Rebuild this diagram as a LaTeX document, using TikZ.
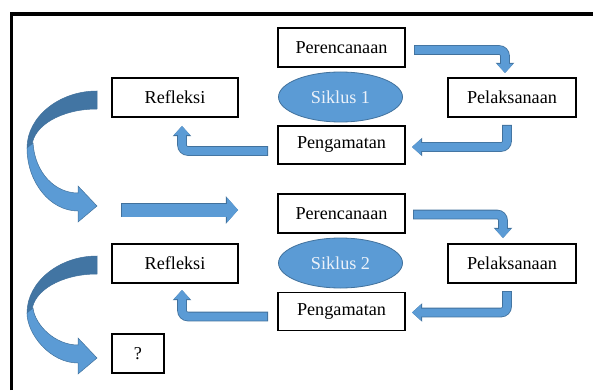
\documentclass[tikz,border=0pt]{standalone}
\usepackage{fontspec}
\setmainfont{Liberation Serif}
\usetikzlibrary{arrows.meta, shapes.geometric}

\definecolor{arrowblue}{RGB}{91,155,213}
\definecolor{arrowedge}{RGB}{65,113,156}
\definecolor{bandback}{RGB}{66,117,163}
\definecolor{cyctext}{RGB}{236,242,250}

\newcommand{\boxfont}{\fontsize{18.2}{22}\selectfont}

\tikzset{
    pics/turnback/.style={code={
        \filldraw[fill=bandback, draw=arrowedge, line width=0.5pt]
            (0,0) .. controls (-38,0) and (-70,26) .. (-70,57) -- (-65,55)
            .. controls (-64,35) and (-36,18) .. (0,18) -- cycle;
        \filldraw[fill=arrowblue, draw=arrowedge, line width=0.5pt]
            (-70,57) .. controls (-70,#1-24) and (-47,#1+5) .. (-19,#1+5)
            -- (-19,#1+16) -- (0,#1) -- (-19,#1-20) -- (-19,#1-13)
            .. controls (-42,#1-13) and (-62,#1-33) .. (-64,52) -- cycle;
    }}
}

\begin{document}
\begin{tikzpicture}[
    x=1pt, y=-1pt,
    box/.style={draw, line width=1.4pt, minimum width=127pt, minimum height=39pt, inner sep=0pt, outer sep=0pt, font=\boxfont},
    cyc/.style={ellipse, fill=arrowblue, draw=arrowedge, line width=0.8pt, minimum width=124pt, minimum height=50pt, inner sep=0pt, text=cyctext, font=\boxfont},
    flow/.style={line width=8pt, draw=arrowblue, rounded corners=6pt, shorten <=0.8pt,
        -{Triangle[width=16pt,length=9pt,line width=0pt]},
        preaction={draw=arrowedge, line width=9.6pt, shorten <=0pt, -{Triangle[width=18.6pt,length=10.2pt,line width=0pt]}}},
    bigflow/.style={line width=13pt, draw=arrowblue, shorten <=0.8pt,
        -{Triangle[width=25pt,length=11pt,line width=0pt]},
        preaction={draw=arrowedge, line width=14.6pt, shorten <=0pt, -{Triangle[width=27.6pt,length=12.2pt,line width=0pt]}}},
]
\useasboundingbox (0,0) rectangle (593,390);

% frame
\draw[line width=3.5pt] (11.3,390) -- (11.3,13.8) -- (593,13.8);

% === Siklus 1 ===
\node[box] (pr1) at (341.5,47.5) {Perencanaan};
\node[cyc] (sk1) at (340.5,97) {Siklus 1};
\node[box, minimum width=128pt] (pl1) at (512,97.5) {Pelaksanaan};
\node[box, minimum height=38pt] (pg1) at (341.5,145) {Pengamatan};
\node[box, minimum width=126pt] (rf1) at (175,97.5) {Refleksi};

\draw[flow] ([xshift=9pt,yshift=-2.5pt]pr1.east) -| ([xshift=-7pt,yshift=5pt]pl1.north);
\draw[flow] ([xshift=-5pt,yshift=-8pt]pl1.south) |- ([xshift=7pt,yshift=-2pt]pg1.east);
\draw[flow] ([xshift=-10pt,yshift=-6pt]pg1.west) -| ([xshift=7pt,yshift=-9pt]rf1.south);

% === Siklus 2 ===
\node[box] (pr2) at (341.5,213.5) {Perencanaan};
\node[cyc] (sk2) at (340.5,263) {Siklus 2};
\node[box, minimum width=128pt] (pl2) at (512,263.5) {Pelaksanaan};
\node[box, minimum height=38pt] (pg2) at (341.5,311.5) {Pengamatan};
\node[box, minimum width=126pt] (rf2) at (175,263.5) {Refleksi};
\node[box, minimum width=52pt] (nx) at (138,353.5) {?};

\draw[flow] ([xshift=8pt,yshift=-1pt]pr2.east) -| ([xshift=-9pt,yshift=6pt]pl2.north);
\draw[flow] ([xshift=-5pt,yshift=-8pt]pl2.south) |- ([xshift=7pt,yshift=-1pt]pg2.east);
\draw[flow] ([xshift=-10pt,yshift=-5pt]pg2.west) -| ([xshift=7pt,yshift=-7pt]rf2.south);

% from one cycle to the next
\pic at ([xshift=-15pt,yshift=6.5pt]rf1.west) {turnback=115};
\draw[bigflow] ([xshift=9pt,yshift=3.5pt]rf1.west |- pr2.west) -- ([yshift=3.5pt]rf1.east |- pr2.west);
\pic at ([xshift=-15pt,yshift=7.5pt]rf2.west) {turnback=102};
\end{tikzpicture}
\end{document}
